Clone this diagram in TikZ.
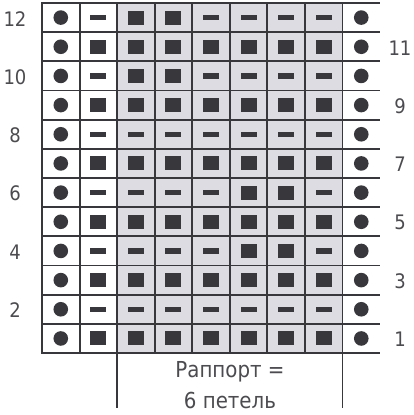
\documentclass[tikz,border=0pt]{standalone}
\usepackage{fontspec}
\setmainfont{DejaVu Sans Condensed}
\definecolor{ink}{HTML}{38383C}
\definecolor{repgray}{HTML}{DDDCE3}
\begin{document}
\begin{tikzpicture}[x=1pt,y=-1pt,
  gridline/.style={draw=ink,line width=1.9pt},
  symb/.style={fill=ink},
  lbl/.style={font=\fontsize{20}{22}\selectfont,text=ink!90,inner sep=0pt},
  captiontext/.style={font=\fontsize{22}{24}\selectfont,text=ink!90,inner sep=0pt}]
\useasboundingbox (0,0) rectangle (413,415);
\fill[white] (0,0) rectangle (413,415);
\def\cw{37.56}
\def\rh{29.17}
% shaded repeat area
\fill[repgray] (117.1,3) rectangle (342.5,353);
% symbols
\foreach \i/\p in {0/{D,S,S,D,D,D,D},1/{S,S,S,S,S,S,S},2/{D,S,S,D,D,D,D},3/{S,S,S,S,S,S,S},
                  4/{D,D,D,D,D,D,D},5/{S,S,S,S,S,S,S},6/{D,D,D,D,S,S,D},7/{S,S,S,S,S,S,S},
                  8/{D,D,D,D,S,S,D},9/{S,S,S,S,S,S,S},10/{D,D,D,D,D,D,D},11/{S,S,S,S,S,S,S}}{
  \pgfmathsetmacro\cy{3+\rh*(\i+0.5)}
  \fill[symb] ({42+\cw*0.5},\cy) circle (7.3);
  \fill[symb] ({42+\cw*8.5},\cy) circle (7.3);
  \foreach \s [count=\j] in \p {
    \pgfmathsetmacro\cx{42+\cw*(\j+0.5)}
    \if\s S
      \fill[symb] (\cx-8,\cy-7) rectangle (\cx+8,\cy+7);
    \else
      \fill[symb] (\cx-8,\cy-2.6) rectangle (\cx+8,\cy+2.6);
    \fi
  }
}
% grid
\foreach \k in {0,...,12}{
  \draw[gridline] (41.1,{3+\rh*\k}) -- (380,{3+\rh*\k});
}
\foreach \m in {0,...,8}{
  \draw[gridline] ({42+\cw*\m},3) -- ({42+\cw*\m},353);
}
\draw[gridline] ({42+\cw*2},353) -- ({42+\cw*2},408);
\draw[gridline] ({42+\cw*8},353) -- ({42+\cw*8},408);
% row labels
\foreach \r/\i in {12/0,10/2,8/4,6/6,4/8,2/10}{
  \node[lbl] (L\r) at (15,{3+\rh*(\i+0.5)+1}) {\r};
}
\foreach \r/\i in {11/1,9/3,7/5,5/7,3/9,1/11}{
  \node[lbl] (R\r) at (400,{3+\rh*(\i+0.5)+1}) {\r};
}
% repeat caption
\node[captiontext] (rap1) at (230,372) {Раппорт =};
\node[captiontext] (rap2) at (230,400) {6 петель};
\end{tikzpicture}
\end{document}
